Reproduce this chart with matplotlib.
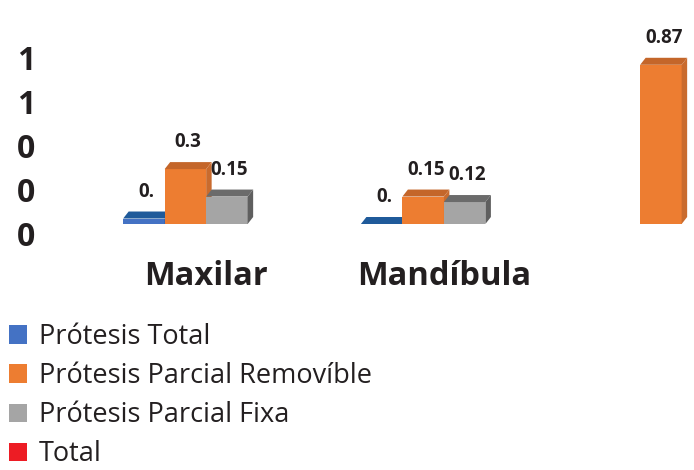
import numpy as np
import matplotlib
matplotlib.use("Agg")
import matplotlib.pyplot as plt
from matplotlib.patches import Polygon, Patch
from matplotlib.transforms import ScaledTranslation

plt.rcParams["font.family"] = ["Open Sans", "DejaVu Sans"]

# ---- data ----
categories = ["Maxilar", "Mandíbula", ""]
series_names = ["Prótesis Total", "Prótesis Parcial Removíble",
                "Prótesis Parcial Fixa", "Total"]
protesis_total = [0.03, 0.0, np.nan]
parcial_removible = [0.3, 0.15, 0.87]
parcial_fixa = [0.15, 0.12, np.nan]
total = [np.nan, np.nan, np.nan]
value_labels = [["0.", "0.", ""],
                ["0.3", "0.15", "0.87"],
                ["0.15", "0.12", ""],
                ["", "", ""]]
ytick_labels = ["0", "0", "0", "1", "1"]

series = [protesis_total, parcial_removible, parcial_fixa, total]

# ---- styling ----
front_colors = ["#4472C4", "#ED7D31", "#A5A5A5", "#ED1C24"]
top_colors = ["#1F5A9A", "#C4662A", "#6B6B6B", "#B01418"]
side_colors = ["#255593", "#C96B2E", "#5F5F5F", "#A01216"]

W, H = 694, 470
fig = plt.figure(figsize=(W / 100, H / 100), dpi=100)

# axes placement in pixels
px_y = 183.0          # pixels per value unit
base_px = 224.0       # baseline from top
ymin, ymax = -0.1, 1.0
px_x = 237.75         # pixels per category step
x0_px = 185.4         # first category centre
left_px, right_px = 60.0, 694.0
bot_px = base_px - ymin * px_y
top_px = base_px - ymax * px_y
ax = fig.add_axes([left_px / W, 1 - bot_px / H,
                   (right_px - left_px) / W, (bot_px - top_px) / H])
ax.set_ylim(ymin, ymax)
ax.set_xlim((left_px - x0_px) / px_x, (right_px - x0_px) / px_x)

bar_w = 41.5 / px_x
dx = 5.5 / px_x
dy = 7.0 / px_y

for s, vals in enumerate(series[:3]):
    for i, v in enumerate(vals):
        if np.isnan(v):
            continue
        xc = i + (s - 1) * bar_w
        xl, xr = xc - bar_w / 2, xc + bar_w / 2
        ax.bar(xc, v, width=bar_w, color=front_colors[s], linewidth=0, zorder=3 + s)
        ax.add_patch(Polygon([(xl, v), (xr, v), (xr + dx, v + dy), (xl + dx, v + dy)],
                             closed=True, facecolor=top_colors[s], linewidth=0, zorder=3 + s))
        ax.add_patch(Polygon([(xr, 0), (xr + dx, dy), (xr + dx, v + dy), (xr, v)],
                             closed=True, facecolor=side_colors[s], linewidth=0, zorder=3 + s))
        lab = value_labels[s][i]
        if lab:
            ax.annotate(lab, (xc + dx / 2, v), xytext=(0, 27), textcoords="offset pixels",
                        ha="center", va="center", fontsize=13.5, fontweight="bold",
                        color="#231F20", zorder=10)

for sp in ax.spines.values():
    sp.set_visible(False)

ax.set_xticks(range(len(categories)))
ax.set_xticklabels(categories, fontsize=23.5, fontweight="bold", color="#231F20")
ax.tick_params(axis="x", length=0, pad=13)
shift = ScaledTranslation(21 / 100, 0, fig.dpi_scale_trans)
for lbl in ax.get_xticklabels():
    lbl.set_transform(lbl.get_transform() + shift)

ax.set_yticks(np.linspace(-0.05, 0.91, len(ytick_labels)))
ax.set_yticklabels(ytick_labels, fontsize=23, fontweight="bold", color="#231F20")
ax.tick_params(axis="y", length=0, pad=18)

handles = [Patch(facecolor=c, edgecolor="none") for c in front_colors]
fig.legend(handles, series_names, loc="upper left", bbox_to_anchor=(9 / W, 1 - 323 / H),
           frameon=False, fontsize=19.5, handlelength=0.66, handleheight=0.66,
           handletextpad=0.44, labelspacing=0.41, borderpad=0, borderaxespad=0,
           labelcolor="#231F20")

fig.savefig("out.png", dpi=100)
